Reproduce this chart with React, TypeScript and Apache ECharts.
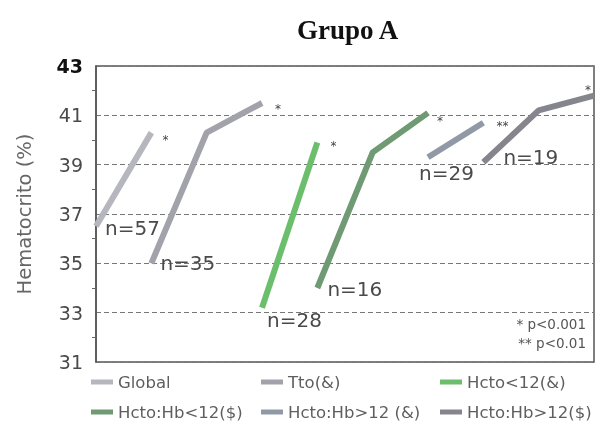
import React, { useEffect, useRef } from "react";
import * as echarts from "echarts";

// Hematocrit (%) before / after, per subgroup of Group A
const seriesNames = [
  "Global",
  "Tto(&)",
  "Hcto<12(&)",
  "Hcto:Hb<12($)",
  "Hcto:Hb>12 (&)",
  "Hcto:Hb>12($)",
];
const globalX = [0, 1];
const globalY = [36.5, 40.3];
const ttoX = [1, 2, 3];
const ttoY = [35.0, 40.3, 41.5];
const hctoLt12X = [3, 4];
const hctoLt12Y = [33.2, 39.9];
const hbLt12X = [4, 5, 6];
const hbLt12Y = [34.0, 39.5, 41.1];
const hbGt12AmpX = [6, 7];
const hbGt12AmpY = [39.3, 40.7];
const hbGt12DolX = [7, 8, 9];
const hbGt12DolY = [39.1, 41.2, 41.8];
const sampleSizes = [57, 35, 28, 16, 29, 19];
const significance = ["*", "*", "*", "*", "**", "*"];
const yTicks = [31, 33, 35, 37, 39, 41, 43];
const notes = ["* p<0.001", "** p<0.01"];

const xs = [globalX, ttoX, hctoLt12X, hbLt12X, hbGt12AmpX, hbGt12DolX];
const ys = [globalY, ttoY, hctoLt12Y, hbLt12Y, hbGt12AmpY, hbGt12DolY];

const colors = ["#b6b6be", "#a2a2aa", "#6cbd6c", "#6f9a73", "#9299a6", "#85858e"];
const nOffsets = [
  [9, 2],
  [9, 0],
  [5, 12],
  [10, 1],
  [-9, 16],
  [20, -5],
];
const starOffsets = [
  [11, 7],
  [13, 6],
  [13, 4],
  [9, 8],
  [13, 3],
  [-9, -6],
];
const legendPos = [
  [91, 372],
  [261, 372],
  [440, 372],
  [91, 402],
  [261, 402],
  [440, 402],
];

const FONT = "DejaVu Sans";

export default function App() {
  const ref = useRef<HTMLDivElement>(null);
  useEffect(() => {
    if (!ref.current) return;
    const chart = echarts.init(ref.current, undefined, { renderer: "svg" });
    const series = seriesNames.map((name, i) => {
      const xv = xs[i];
      const yv = ys[i];
      const data = xv.map((x, j) => {
        const item: any = { value: [x, yv[j]] };
        if (j === 0) {
          item.label = {
            show: true,
            position: "right",
            distance: 0,
            offset: nOffsets[i],
            formatter: "n=" + sampleSizes[i],
            fontFamily: FONT,
            fontSize: 20,
            color: "#4a4a4a",
          };
        } else if (j === xv.length - 1) {
          item.label = {
            show: true,
            position: "right",
            distance: 0,
            offset: starOffsets[i],
            formatter: significance[i],
            fontFamily: FONT,
            fontSize: 12,
            color: "#444",
          };
        }
        return item;
      });
      return {
        name,
        type: "line",
        data,
        showSymbol: true,
        symbol: "circle",
        symbolSize: 0.1,
        clip: false,
        color: colors[i],
        itemStyle: { color: colors[i] },
        lineStyle: { width: 6, color: colors[i] },
        label: { show: false },
      };
    });

    chart.setOption({
      animation: false,
      title: {
        text: "Grupo A",
        left: 292,
        top: 11,
        textStyle: {
          fontFamily: "Liberation Serif",
          fontWeight: "bold",
          fontSize: 27,
          color: "#111",
        },
      },
      grid: {
        left: 96,
        right: 4,
        top: 66,
        bottom: 61,
        show: true,
        borderColor: "#555",
        borderWidth: 1.5,
        backgroundColor: "transparent",
      },
      legend: seriesNames.map((name, i) => ({
        data: [name],
        left: legendPos[i][0],
        top: legendPos[i][1],
        icon: "rect",
        itemWidth: 22,
        itemHeight: 5,
        padding: 0,
        selectedMode: false,
        textStyle: {
          fontFamily: FONT,
          fontSize: 16.5,
          color: "#5e5e5e",
          lineHeight: 20,
        },
      })),
      xAxis: {
        type: "value",
        min: 0,
        max: 9,
        show: false,
      },
      yAxis: {
        type: "value",
        min: yTicks[0],
        max: yTicks[yTicks.length - 1],
        interval: 2,
        name: "Hematocrito (%)",
        nameLocation: "middle",
        nameGap: 62,
        nameTextStyle: {
          fontFamily: FONT,
          fontSize: 19.5,
          color: "#666",
        },
        axisLine: { show: true, lineStyle: { color: "#555", width: 1.5 } },
        axisTick: { show: false },
        minorTick: {
          show: true,
          splitNumber: 2,
          length: 4,
          lineStyle: { color: "#666" },
        },
        axisLabel: {
          margin: 13,
          formatter: (v: number) =>
            v === yTicks[yTicks.length - 1] ? "{b|" + v + "}" : "{n|" + v + "}",
          rich: {
            b: { fontFamily: FONT, fontSize: 19, fontWeight: "bold", color: "#111" },
            n: { fontFamily: FONT, fontSize: 19, color: "#4a4a4a" },
          },
        },
        splitLine: {
          show: true,
          lineStyle: { color: "#777", type: [5, 3], width: 1 },
        },
      },
      graphic: notes.map((t, i) => ({
        type: "text",
        right: 12,
        top: 317 + i * 19,
        style: {
          text: t,
          fontFamily: FONT,
          fontSize: 13.5,
          fill: "#555",
        },
      })),
      series,
    });
    return () => chart.dispose();
  }, []);
  return (
    <div
      ref={ref}
      style={{ position: "fixed", left: 0, top: 0, width: 598, height: 423 }}
    />
  );
}
